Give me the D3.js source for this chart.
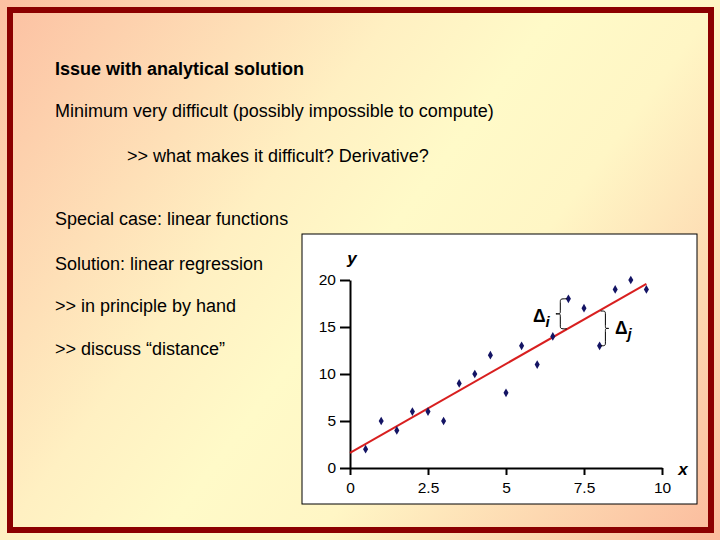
<!DOCTYPE html>
<html><head><meta charset="utf-8">
<script src="https://cdn.jsdelivr.net/npm/d3@7"></script>
<style>html,body{margin:0;padding:0;background:#fff}svg{display:block}</style>
</head><body>
<script>
// ---- data ----
const xValues = [0.5,1,1.5,2,2.5,3,3.5,4,4.5,5,5.5,6,6.5,7,7.5,8,8.5,9,9.5];
const yValues = [2,5,4,6,6,5,9,10,12,8,13,11,14,18,17,13,19,20,19];
const lineX = [0, 9.5];
const lineY = [1.6, 19.6];
const xTicks = [0, 2.5, 5, 7.5, 10];
const yTicks = [0, 5, 10, 15, 20];
const textLines = [
  {t:"Issue with analytical solution", bold:true, x:55, y:75},
  {t:"Minimum very difficult (possibly impossible to compute)", x:55, y:117},
  {t:">> what makes it difficult? Derivative?", x:127, y:162},
  {t:"Special case: linear functions", x:55, y:225},
  {t:"Solution: linear regression", x:55, y:270},
  {t:">> in principle by hand", x:55, y:312},
  {t:">> discuss \u201cdistance\u201d", x:55, y:355}
];
const braceI = {x:7, yTop:18, yBot:14.8};
const braceJ = {x:8, yTop:16.7, yBot:13};

const W=720,H=540;
const FONT="Liberation Sans, Arial, sans-serif";
const svg=d3.select("body").append("svg").attr("width",W).attr("height",H);
const defs=svg.append("defs");
const g=defs.append("linearGradient").attr("id","bg").attr("gradientUnits","userSpaceOnUse")
  .attr("x1",0).attr("y1",0).attr("x2",W).attr("y2",H);
[[0,"#fcc0a2"],[0.36,"#fff0c2"],[0.5,"#fffac8"],[0.64,"#fff6c5"],[1,"#fbbb9d"]].forEach(s=>
  g.append("stop").attr("offset",s[0]).attr("stop-color",s[1]));
svg.append("rect").attr("width",W).attr("height",H).attr("fill","url(#bg)");
svg.append("rect").attr("x",10).attr("y",10).attr("width",701).attr("height",520)
  .attr("fill","none").attr("stroke","#8c0000").attr("stroke-width",6);

svg.selectAll("text.body").data(textLines).enter().append("text")
  .attr("class","body").attr("x",d=>d.x).attr("y",d=>d.y)
  .attr("font-family",FONT).attr("font-size",18)
  .attr("font-weight",d=>d.bold?"bold":"normal").attr("fill","#000").text(d=>d.t);

// chart box
svg.append("rect").attr("x",302).attr("y",234).attr("width",395).attr("height",270)
  .attr("fill","#fff").attr("stroke","#000").attr("stroke-width",1);

const x=d3.scaleLinear().domain([0,10]).range([350,662]);
const y=d3.scaleLinear().domain([0,20]).range([468,280]);

const xa=svg.append("g").attr("transform","translate(0,468)")
  .call(d3.axisBottom(x).tickValues(xTicks).tickFormat(d3.format("~g")).tickSize(7).tickSizeOuter(0).tickPadding(7));
const ya=svg.append("g").attr("transform","translate(350,0)")
  .call(d3.axisLeft(y).tickValues(yTicks).tickSize(10).tickSizeOuter(0).tickPadding(4));
[xa,ya].forEach(a=>{
  a.select(".domain").attr("stroke","#000").attr("stroke-width",2);
  a.selectAll(".tick line").attr("stroke","#000").attr("stroke-width",2);
  a.selectAll(".tick text").attr("font-family",FONT).attr("font-size",15.5).attr("fill","#000");
});

svg.append("text").attr("x",352).attr("y",264).attr("text-anchor","middle")
  .attr("font-family",FONT).attr("font-size",17)
  .attr("font-weight","bold").attr("font-style","italic").text("y");
svg.append("text").attr("x",683).attr("y",475).attr("text-anchor","middle")
  .attr("font-family",FONT).attr("font-size",17)
  .attr("font-weight","bold").attr("font-style","italic").text("x");

// regression line
svg.append("line").attr("x1",x(lineX[0])).attr("y1",y(lineY[0])).attr("x2",x(lineX[1])).attr("y2",y(lineY[1]))
  .attr("stroke","#d81f1f").attr("stroke-width",2);

// points
svg.selectAll("path.pt").data(xValues).enter().append("path").attr("class","pt")
  .attr("transform",(d,i)=>`translate(${x(d)},${y(yValues[i])})`)
  .attr("d",d3.symbol(d3.symbolDiamond,22)).attr("fill","#141464");

// braces
function brace(xc,y1,y2,dir,w){
  const ym=(y1+y2)/2, tip=xc+dir*w, q=dir*w*0.6;
  return `M${xc},${y1} C${xc+q},${y1} ${xc+q},${y1} ${xc+q},${y1+4}`+
    ` L${xc+q},${ym-3} C${xc+q},${ym} ${xc+q},${ym} ${tip},${ym}`+
    ` C${xc+q},${ym} ${xc+q},${ym} ${xc+q},${ym+3}`+
    ` L${xc+q},${y2-4} C${xc+q},${y2} ${xc+q},${y2} ${xc},${y2}`;
}
svg.append("path").attr("d",brace(x(braceI.x)-1.5,y(braceI.yTop),y(braceI.yBot),-1,11))
  .attr("fill","none").attr("stroke","#000").attr("stroke-width",1);
svg.append("path").attr("d",brace(x(braceJ.x)+1,y(braceJ.yTop),y(braceJ.yBot),1,8))
  .attr("fill","none").attr("stroke","#000").attr("stroke-width",1);
function delta(xp,yp,sub){
  const t=svg.append("text").attr("x",xp).attr("y",yp)
   .attr("font-family",FONT).attr("font-size",17.5).attr("font-weight","bold").attr("fill","#000");
  t.append("tspan").text("\u0394");
  t.append("tspan").attr("font-style","italic").attr("font-size",15).attr("dy",5).text(sub);
}
delta(533,322,"i");
delta(615,334,"j");
</script>
</body></html>
